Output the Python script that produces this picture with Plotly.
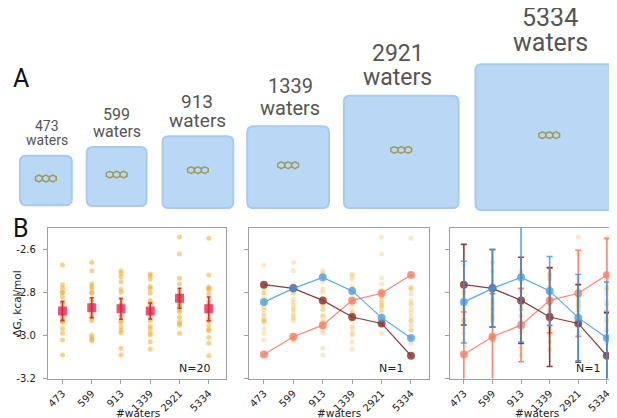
import numpy as np
import plotly.graph_objects as go
from plotly.subplots import make_subplots

W, H = 617, 418

# categories
waters = ["473", "599", "913", "1339", "2921", "5334"]

# panel B left: 20 repeats per box size (kcal/mol)
runs_473 = [-2.673, -2.764, -2.781, -2.800, -2.800, -2.845, -2.853, -2.870, -2.899, -2.910,
            -2.926, -2.932, -2.940, -2.967, -2.990, -3.021, -3.090, -2.820, -2.880, -2.930]
runs_599 = [-2.661, -2.699, -2.761, -2.773, -2.784, -2.804, -2.830, -2.845, -2.876, -2.899,
            -2.911, -2.932, -2.998, -3.009, -3.018, -3.024, -2.860, -2.880, -2.920, -2.800]
runs_913 = [-2.699, -2.712, -2.727, -2.750, -2.784, -2.799, -2.830, -2.853, -2.876, -2.906,
            -2.932, -2.960, -2.975, -2.987, -3.059, -3.090, -2.880, -2.860, -2.910, -2.940]
runs_1339 = [-2.715, -2.722, -2.738, -2.773, -2.784, -2.804, -2.837, -2.856, -2.895, -2.932,
             -2.957, -2.990, -2.998, -3.029, -3.064, -2.880, -2.900, -2.850, -2.920, -2.970]
runs_2921 = [-2.543, -2.622, -2.734, -2.761, -2.807, -2.822, -2.837, -2.845, -2.857, -2.868,
             -2.891, -2.914, -2.934, -2.945, -2.952, -2.990, -2.820, -2.860, -2.880, -2.790]
runs_5334 = [-2.549, -2.719, -2.776, -2.781, -2.788, -2.807, -2.837, -2.860, -2.895, -2.914,
             -2.932, -2.952, -2.972, -2.978, -3.009, -3.036, -3.094, -2.880, -2.930, -2.850]

mean_dg = [-2.886, -2.871, -2.876, -2.886, -2.827, -2.876]
mean_err = [0.044, 0.046, 0.048, 0.037, 0.046, 0.055]

# single runs (N=1)
run_blue = [-2.845, -2.781, -2.730, -2.793, -2.917, -3.012]
run_blue_err = [0.19, 0.18, 0.30, 0.16, 0.20, 0.26]
run_darkred = [-2.764, -2.781, -2.837, -2.914, -2.944, -3.094]
run_darkred_err = [0.187, 0.18, 0.20, 0.23, 0.18, 0.20]
run_salmon = [-3.088, -3.006, -2.952, -2.837, -2.804, -2.719]
run_salmon_err = [0.197, 0.20, 0.17, 0.15, 0.20, 0.17]

all_runs = [runs_473, runs_599, runs_913, runs_1339, runs_2921, runs_5334]

# panel A box pictures (pixel geometry)
box_px = [(10, 150, 62, 200), (77, 141, 137, 201), (153, 130, 224, 203),
          (238, 120, 320, 203), (335, 89, 450, 203), (467, 57, 615, 205)]
# label centre x, baseline of number, baseline of "waters", font size
label_px = [(37, 126, 140, 14), (107, 115, 132, 16), (188, 103, 122, 19),
            (281, 88, 110, 20), (389, 56, 80, 23), (542, 20, 45, 25)]


def px(x):
    return x / W


def py(y):
    return 1 - y / H


def rounded_box(x0, y0, x1, y1, r):
    pts = [
        f"M {px(x0 + r)},{py(y0)}", f"L {px(x1 - r)},{py(y0)}",
        f"Q {px(x1)},{py(y0)} {px(x1)},{py(y0 + r)}", f"L {px(x1)},{py(y1 - r)}",
        f"Q {px(x1)},{py(y1)} {px(x1 - r)},{py(y1)}", f"L {px(x0 + r)},{py(y1)}",
        f"Q {px(x0)},{py(y1)} {px(x0)},{py(y1 - r)}", f"L {px(x0)},{py(y0 + r)}",
        f"Q {px(x0)},{py(y0)} {px(x0 + r)},{py(y0)}", "Z",
    ]
    return " ".join(pts)


def molecule(cx, cy, R=4.0, squash=0.85):
    step = np.sqrt(3) * R
    paths = []
    for k in (-1, 0, 1):
        hx = cx + k * step
        ang = np.radians([30, 90, 150, 210, 270, 330])
        vx = hx + R * np.cos(ang)
        vy = cy + R * np.sin(ang) * squash
        p = f"M {px(vx[0])},{py(vy[0])} " + " ".join(
            f"L {px(a)},{py(b)}" for a, b in zip(vx[1:], vy[1:])) + " Z"
        paths.append(p)
    return paths


fig = make_subplots(rows=1, cols=3)

orange = "rgba(246,172,40,0.55)"
orange_faint = "rgba(246,172,40,0.28)"
blue = "#3d9ae8"
darkred = "#7d1a1a"
salmon = "#f7735c"

for col in (1, 2, 3):
    for i, vals in enumerate(all_runs):
        fig.add_trace(go.Scatter(
            x=[i] * len(vals), y=vals, mode="markers",
            marker=dict(size=5, color=orange if col == 1 else orange_faint),
            showlegend=False, hoverinfo="y"
        ), row=1, col=col)

fig.add_trace(go.Scatter(
    x=list(range(len(waters))), y=mean_dg, mode="markers",
    marker=dict(symbol="square", size=9, color="rgba(225,30,85,0.75)"),
    error_y=dict(type="data", array=mean_err, color="rgba(215,25,60,0.9)", thickness=1.5, width=2),
    showlegend=False
), row=1, col=1)

series = [(run_salmon, run_salmon_err, salmon),
          (run_darkred, run_darkred_err, darkred),
          (run_blue, run_blue_err, blue)]

for col in (2, 3):
    for vals, err, c in series:
        fig.add_trace(go.Scatter(
            x=list(range(len(waters))), y=vals, mode="lines+markers",
            line=dict(color=c, width=1.2),
            marker=dict(size=8, color=c, opacity=0.85),
            opacity=0.85,
            error_y=dict(type="data", array=err, color=c, thickness=1.6, width=3) if col == 3 else None,
            showlegend=False
        ), row=1, col=col)

axis_style = dict(
    showline=True, mirror=True, linecolor="#a0a0a0", linewidth=1,
    ticks="outside", ticklen=4, tickcolor="#a0a0a0", showgrid=False, zeroline=False,
    tickfont=dict(family="DejaVu Sans", size=10, color="#222222"),
)
x_domains = [(38 / W, 217 / W), (240 / W, 420 / W), (441 / W, 616 / W)]
for c in (1, 2, 3):
    fig.update_xaxes(axis_style, domain=x_domains[c - 1], range=[-0.5, 5.6],
                     tickvals=list(range(len(waters))), ticktext=waters,
                     tickangle=-45, row=1, col=c)
    fig.update_yaxes(axis_style, domain=[py(376), py(223)], range=[-3.2, -2.5],
                     tickvals=[-3.2, -3.0, -2.8, -2.6], ticktext=["-3.2", "-3.0", "-2.8", "-2.6"],
                     showticklabels=(c == 1), ticklabelstandoff=5, row=1, col=c)

shapes = []
for (x0, y0, x1, y1) in box_px:
    shapes.append(dict(type="path", xref="paper", yref="paper",
                       path=rounded_box(x0, y0, x1, y1, 6),
                       fillcolor="#b9d8f5", line=dict(color="#a7cbef", width=2)))
    for p in molecule((x0 + x1) / 2, (y0 + y1) / 2 - 2):
        shapes.append(dict(type="path", xref="paper", yref="paper", path=p,
                           line=dict(color="#a09a5c", width=1.5)))

annotations = []
for n, (cx, b_num, b_wat, fs) in zip(waters, label_px):
    for txt, base in ((n, b_num), ("waters", b_wat)):
        annotations.append(dict(x=px(cx), y=py(base - 0.42 * fs), xref="paper", yref="paper",
                                text=txt, showarrow=False, xanchor="center", yanchor="middle",
                                font=dict(family="Roboto", size=fs, color="#555555")))

for txt, x, y in [("A", 11, 72), ("B", 11, 224)]:
    annotations.append(dict(x=px(x), y=py(y), xref="paper", yref="paper", text=txt,
                            showarrow=False, xanchor="center", yanchor="middle",
                            font=dict(family="Roboto", size=25, color="#111111")))

for x in (128, 330, 529):
    annotations.append(dict(x=px(x), y=py(411), xref="paper", yref="paper", text="#waters",
                            showarrow=False, xanchor="center", yanchor="middle",
                            font=dict(family="DejaVu Sans", size=10.5, color="#222222")))

for txt, x in [("N=20", 185), ("N=1", 382), ("N=1", 580)]:
    annotations.append(dict(x=px(x), y=py(366), xref="paper", yref="paper", text=txt,
                            showarrow=False, xanchor="center", yanchor="middle",
                            font=dict(family="DejaVu Sans", size=11, color="#222222")))

annotations.append(dict(x=px(7), y=py(300), xref="paper", yref="paper", text="ΔG, kcal/mol",
                        showarrow=False, textangle=-90, xanchor="center", yanchor="middle",
                        font=dict(family="DejaVu Sans", size=10.5, color="#222222")))

fig.update_layout(
    width=W, height=H,
    margin=dict(l=0, r=0, t=0, b=0),
    paper_bgcolor="white", plot_bgcolor="white",
    shapes=shapes, annotations=annotations,
    showlegend=False,
)

fig.write_html("out.html")
